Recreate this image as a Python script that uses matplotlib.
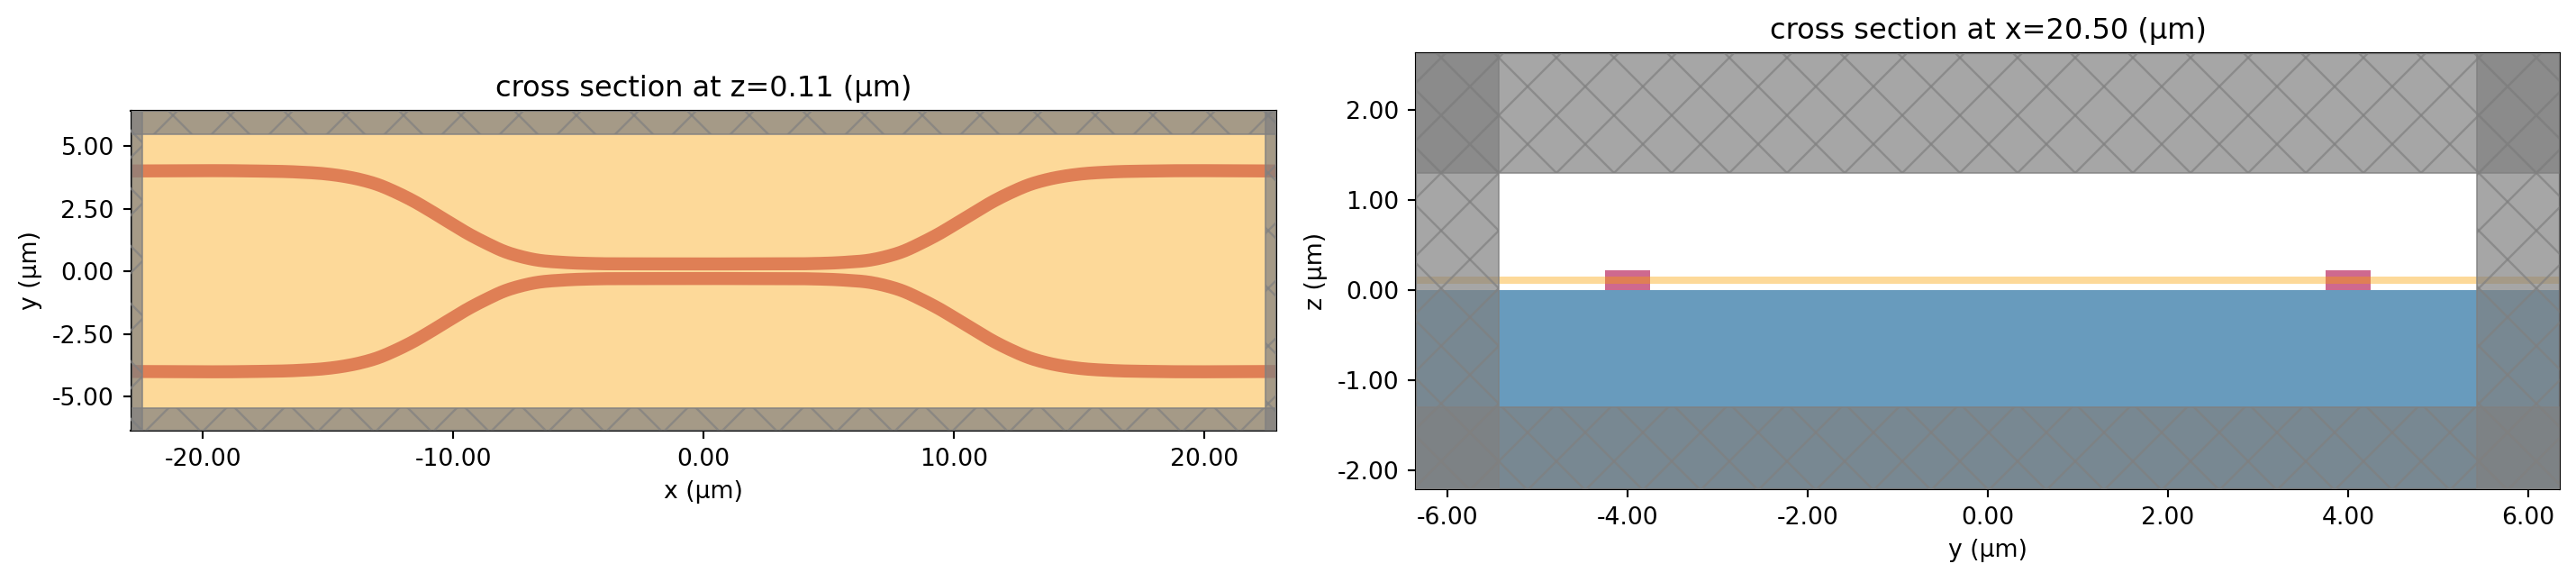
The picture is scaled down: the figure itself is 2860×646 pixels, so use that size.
import matplotlib
matplotlib.use("Agg")
import matplotlib.pyplot as plt
from matplotlib.collections import LineCollection
from matplotlib.patches import Rectangle
from matplotlib.transforms import IdentityTransform
import numpy as np

W, H, DPI = 2860, 646, 192

# upper waveguide centre line, left half (um)
wg_x = [-22.87, -18.0, -16.25, -15.06, -14.45, -13.73, -13.0, -12.29, -11.57, -10.85,
        -10.13, -9.41, -8.68, -7.96, -7.24, -6.76, -5.56, -4.36, -2.5, 0.0]
wg_y = [4.0, 4.0, 3.96, 3.88, 3.80, 3.66, 3.45, 3.15, 2.79, 2.37,
        1.93, 1.50, 1.12, 0.79, 0.57, 0.465, 0.35, 0.305, 0.295, 0.29]

# layers of the x-z cut (um)
core_centres = [-4.0, 4.0]
core_width = 0.5
core_top = 0.22
slab_z = [0.067, 0.144]

# pml inner edges (um)
top_pml_x, top_pml_y = 22.43, 5.45
side_pml_y, side_pml_z = 5.43, 1.30

top_xlim, top_ylim = (-22.87, 22.87), (-6.36, 6.40)
side_xlim, side_ylim = (-6.35, 6.35), (-2.21, 2.63)

top_xticks = [-20, -10, 0, 10, 20]
top_yticks = [-5, -2.5, 0, 2.5, 5]
side_xticks = [-6, -4, -2, 0, 2, 4, 6]
side_yticks = [-2, -1, 0, 1, 2]

PINK = "#CE698F"
BLUE = "#689BBD"
YELLOW = (0.98, 0.63, 0.0, 0.4)
PML = (0.5, 0.5, 0.5, 0.7)


# round off the read points so the bend has no corners (Hermite through each point)
def smooth_curve(x, y, per_seg=12):
    slope = np.gradient(y, x)
    xs, ys = [], []
    for i in range(len(x) - 1):
        h = x[i + 1] - x[i]
        t = np.linspace(0, 1, per_seg, endpoint=False)
        xs.append(x[i] + h * t)
        ys.append((2 * t**3 - 3 * t**2 + 1) * y[i] + (t**3 - 2 * t**2 + t) * h * slope[i]
                  + (-2 * t**3 + 3 * t**2) * y[i + 1] + (t**3 - t**2) * h * slope[i + 1])
    xs.append([x[-1]])
    ys.append([y[-1]])
    return np.concatenate(xs), np.concatenate(ys)


# big diamond hatch, one lattice for the whole figure (64 px), clipped to the patch
def hatch_lines(ax, patch):
    segs = []
    for k in range(-12, 60):
        c = 64 * k
        segs.append([(c, H), (c + H, 0)])
        segs.append([(c, H), (c - H, 0)])
    lines = LineCollection(segs, colors=[PML], linewidths=0.9,
                           transform=IdentityTransform(), zorder=4)
    ax.add_collection(lines, autolim=False)
    lines.set_clip_path(patch)


def add_pml(ax, x0, x1, y0, y1):
    rect = Rectangle((x0, y0), x1 - x0, y1 - y0, facecolor=PML, edgecolor=PML,
                     linewidth=0.75, zorder=3)
    ax.add_patch(rect)
    hatch_lines(ax, rect)


def add_all_pml(ax, xlim, ylim, xp, yp):
    add_pml(ax, xlim[0], -xp, ylim[0], ylim[1])
    add_pml(ax, xp, xlim[1], ylim[0], ylim[1])
    add_pml(ax, xlim[0], xlim[1], yp, ylim[1])
    add_pml(ax, xlim[0], xlim[1], ylim[0], -yp)


def axes_px(left, top, right, bottom):
    return [left / W, (H - bottom) / H, (right - left) / W, (bottom - top) / H]


fig = plt.figure(figsize=(W / DPI, H / DPI), dpi=DPI)

# z cut
ax1 = fig.add_axes(axes_px(145.5, 123, 1417, 478))
half_x, half_y = smooth_curve(np.array(wg_x), np.array(wg_y))
line_x = np.concatenate([half_x, -half_x[-2::-1]])
line_y = np.concatenate([half_y, half_y[-2::-1]])
for sign in [1, -1]:
    ax1.plot(line_x, sign * line_y, color=PINK, linewidth=5.4,
             solid_capstyle="butt", solid_joinstyle="round", zorder=1)
ax1.add_patch(Rectangle((top_xlim[0], top_ylim[0]), top_xlim[1] - top_xlim[0],
                        top_ylim[1] - top_ylim[0], facecolor=YELLOW, edgecolor="none", zorder=2))
add_all_pml(ax1, top_xlim, top_ylim, top_pml_x, top_pml_y)
ax1.set_xlim(top_xlim)
ax1.set_ylim(top_ylim)
ax1.set_xticks(top_xticks)
ax1.set_yticks(top_yticks)
ax1.set_xticklabels(["%.2f" % t for t in top_xticks])
ax1.set_yticklabels(["%.2f" % t for t in top_yticks])
ax1.set_xlabel("x (μm)")
ax1.set_ylabel("y (μm)")
ax1.set_title("cross section at z=0.11 (μm)")

# x cut
ax2 = fig.add_axes(axes_px(1572, 58.5, 2842, 543))
ax2.add_patch(Rectangle((side_xlim[0], side_ylim[0]), side_xlim[1] - side_xlim[0],
                        -side_ylim[0], facecolor=BLUE, edgecolor="none", zorder=1))
for c in core_centres:
    ax2.add_patch(Rectangle((c - core_width / 2, 0), core_width, core_top,
                            facecolor=PINK, edgecolor="none", zorder=1))
ax2.add_patch(Rectangle((side_xlim[0], slab_z[0]), side_xlim[1] - side_xlim[0],
                        slab_z[1] - slab_z[0], facecolor=YELLOW, edgecolor="none", zorder=2))
add_all_pml(ax2, side_xlim, side_ylim, side_pml_y, side_pml_z)
ax2.set_xlim(side_xlim)
ax2.set_ylim(side_ylim)
ax2.set_xticks(side_xticks)
ax2.set_yticks(side_yticks)
ax2.set_xticklabels(["%.2f" % t for t in side_xticks])
ax2.set_yticklabels(["%.2f" % t for t in side_yticks])
ax2.set_xlabel("y (μm)")
ax2.set_ylabel("z (μm)")
ax2.set_title("cross section at x=20.50 (μm)")

fig.savefig("out.png", dpi=DPI)
